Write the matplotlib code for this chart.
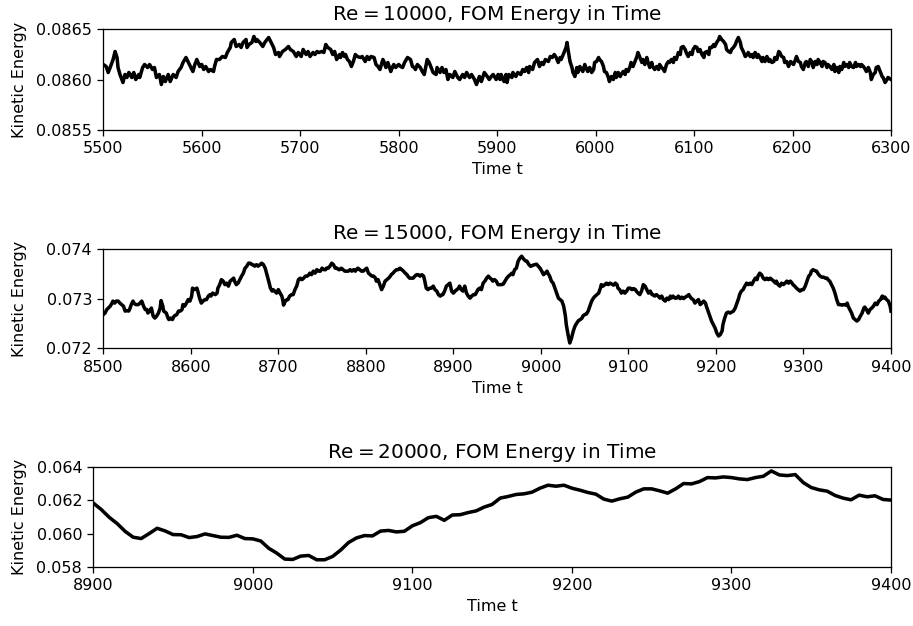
import matplotlib.pyplot as plt
import numpy as np

# ==========================================
# DATA
# ==========================================
# Re = 10000
time_re10k = [
    5500, 5503, 5505, 5507, 5510, 5512, 5514, 5515, 5517, 5520,
    5522, 5524, 5526, 5529, 5531, 5533, 5536, 5537, 5540, 5542,
    5545, 5547, 5550, 5552, 5554, 5557, 5559, 5561, 5563, 5566,
    5568, 5571, 5574, 5576, 5579, 5581, 5584, 5586, 5589, 5591,
    5593, 5595, 5598, 5600, 5602, 5604, 5607, 5609, 5612, 5613,
    5615, 5618, 5621, 5624, 5626, 5629, 5630, 5633, 5635, 5638,
    5640, 5642, 5645, 5646, 5648, 5651, 5653, 5655, 5656, 5659,
    5662, 5664, 5668, 5670, 5673, 5675, 5678, 5679, 5682, 5685,
    5688, 5690, 5693, 5696, 5698, 5701, 5703, 5706, 5708, 5710,
    5713, 5715, 5717, 5719, 5722, 5724, 5726, 5728, 5731, 5733,
    5735, 5737, 5740, 5741, 5743, 5745, 5746, 5748, 5750, 5752,
    5754, 5756, 5758, 5761, 5763, 5766, 5768, 5770, 5772, 5775,
    5777, 5779, 5781, 5784, 5785, 5787, 5789, 5792, 5794, 5795,
    5797, 5800, 5802, 5804, 5806, 5809, 5812, 5814, 5816, 5817,
    5819, 5822, 5824, 5826, 5828, 5829, 5831, 5833, 5835, 5838,
    5839, 5842, 5844, 5846, 5848, 5850, 5852, 5855, 5857, 5860,
    5862, 5865, 5867, 5869, 5872, 5874, 5877, 5879, 5882, 5884,
    5887, 5890, 5892, 5894, 5896, 5899, 5901, 5903, 5904, 5907,
    5909, 5910, 5912, 5915, 5916, 5919, 5921, 5924, 5926, 5928,
    5930, 5932, 5933, 5936, 5938, 5941, 5943, 5945, 5947, 5949,
    5952, 5954, 5956, 5958, 5960, 5962, 5964, 5965, 5968, 5970,
    5971, 5972, 5974, 5976, 5977, 5979, 5981, 5982, 5984, 5987,
    5989, 5991, 5992, 5994, 5996, 5998, 5999, 6001, 6003, 6004,
    6006, 6008, 6009, 6011, 6013, 6014, 6016, 6018, 6020, 6021,
    6023, 6025, 6026, 6028, 6030, 6031, 6033, 6035, 6036, 6038,
    6040, 6042, 6043, 6045, 6047, 6048, 6050, 6052, 6053, 6055,
    6057, 6058, 6060, 6062, 6064, 6065, 6067, 6069, 6070, 6072,
    6074, 6075, 6077, 6079, 6080, 6082, 6084, 6086, 6087, 6089,
    6091, 6092, 6094, 6096, 6098, 6099, 6101, 6103, 6104, 6106,
    6108, 6110, 6111, 6113, 6115, 6116, 6118, 6120, 6121, 6123,
    6125, 6126, 6128, 6130, 6132, 6133, 6135, 6137, 6138, 6140,
    6142, 6143, 6145, 6147, 6148, 6150, 6152, 6154, 6155, 6157,
    6159, 6160, 6162, 6164, 6165, 6167, 6169, 6170, 6172, 6174,
    6176, 6177, 6179, 6181, 6182, 6184, 6186, 6187, 6189, 6191,
    6192, 6194, 6196, 6198, 6199, 6201, 6203, 6204, 6206, 6208,
    6209, 6211, 6213, 6214, 6216, 6218, 6220, 6221, 6223, 6225,
    6226, 6228, 6230, 6231, 6233, 6235, 6236, 6238, 6240, 6242,
    6243, 6245, 6247, 6248, 6250, 6252, 6253, 6255, 6257, 6258,
    6260, 6262, 6264, 6265, 6267, 6269, 6270, 6272, 6274, 6275,
    6277, 6279, 6280, 6282, 6284, 6285, 6287, 6289, 6291, 6292,
    6294, 6296, 6297, 6300,
]
energy_re10k = [
    0.08615, 0.08613, 0.08607, 0.08612, 0.08620, 0.08628, 0.08622, 0.08612, 0.08605, 0.08597,
    0.08605, 0.08602, 0.08607, 0.08602, 0.08607, 0.08600, 0.08605, 0.08602, 0.08612, 0.08615,
    0.08612, 0.08615, 0.08610, 0.08612, 0.08602, 0.08605, 0.08595, 0.08603, 0.08598, 0.08605,
    0.08598, 0.08605, 0.08602, 0.08608, 0.08612, 0.08617, 0.08622, 0.08618, 0.08612, 0.08608,
    0.08615, 0.08620, 0.08613, 0.08615, 0.08610, 0.08613, 0.08608, 0.08610, 0.08608, 0.08613,
    0.08620, 0.08620, 0.08623, 0.08622, 0.08627, 0.08632, 0.08637, 0.08640, 0.08633, 0.08635,
    0.08632, 0.08637, 0.08640, 0.08632, 0.08635, 0.08637, 0.08643, 0.08638, 0.08640, 0.08637,
    0.08633, 0.08637, 0.08642, 0.08638, 0.08632, 0.08625, 0.08627, 0.08623, 0.08628, 0.08630,
    0.08633, 0.08630, 0.08628, 0.08623, 0.08627, 0.08623, 0.08630, 0.08625, 0.08628, 0.08623,
    0.08627, 0.08625, 0.08628, 0.08627, 0.08628, 0.08627, 0.08635, 0.08632, 0.08630, 0.08625,
    0.08628, 0.08620, 0.08625, 0.08622, 0.08627, 0.08623, 0.08625, 0.08620, 0.08618, 0.08613,
    0.08618, 0.08625, 0.08623, 0.08622, 0.08623, 0.08618, 0.08623, 0.08620, 0.08623, 0.08622,
    0.08615, 0.08613, 0.08610, 0.08620, 0.08618, 0.08612, 0.08617, 0.08608, 0.08613, 0.08615,
    0.08612, 0.08615, 0.08613, 0.08612, 0.08617, 0.08622, 0.08620, 0.08613, 0.08612, 0.08610,
    0.08615, 0.08612, 0.08608, 0.08605, 0.08615, 0.08620, 0.08617, 0.08612, 0.08607, 0.08605,
    0.08612, 0.08607, 0.08612, 0.08607, 0.08610, 0.08600, 0.08605, 0.08602, 0.08608, 0.08602,
    0.08600, 0.08605, 0.08602, 0.08607, 0.08602, 0.08605, 0.08600, 0.08595, 0.08603, 0.08598,
    0.08607, 0.08603, 0.08600, 0.08603, 0.08605, 0.08600, 0.08605, 0.08600, 0.08605, 0.08598,
    0.08605, 0.08597, 0.08605, 0.08602, 0.08607, 0.08603, 0.08607, 0.08605, 0.08610, 0.08608,
    0.08612, 0.08607, 0.08613, 0.08610, 0.08617, 0.08620, 0.08613, 0.08617, 0.08615, 0.08620,
    0.08618, 0.08623, 0.08622, 0.08625, 0.08622, 0.08617, 0.08622, 0.08620, 0.08627, 0.08632,
    0.08637, 0.08630, 0.08618, 0.08612, 0.08607, 0.08603, 0.08612, 0.08607, 0.08613, 0.08608,
    0.08615, 0.08610, 0.08608, 0.08612, 0.08607, 0.08610, 0.08617, 0.08618, 0.08622, 0.08620,
    0.08618, 0.08613, 0.08608, 0.08607, 0.08602, 0.08598, 0.08603, 0.08600, 0.08607, 0.08602,
    0.08607, 0.08603, 0.08605, 0.08608, 0.08605, 0.08610, 0.08608, 0.08613, 0.08617, 0.08613,
    0.08618, 0.08623, 0.08627, 0.08622, 0.08617, 0.08620, 0.08615, 0.08622, 0.08618, 0.08612,
    0.08617, 0.08613, 0.08610, 0.08613, 0.08610, 0.08615, 0.08612, 0.08610, 0.08608, 0.08615,
    0.08618, 0.08617, 0.08620, 0.08617, 0.08622, 0.08620, 0.08627, 0.08625, 0.08632, 0.08633,
    0.08630, 0.08627, 0.08623, 0.08627, 0.08625, 0.08630, 0.08633, 0.08632, 0.08628, 0.08630,
    0.08625, 0.08622, 0.08627, 0.08628, 0.08625, 0.08632, 0.08632, 0.08635, 0.08633, 0.08637,
    0.08640, 0.08643, 0.08640, 0.08638, 0.08635, 0.08630, 0.08628, 0.08627, 0.08630, 0.08632,
    0.08635, 0.08638, 0.08642, 0.08637, 0.08632, 0.08628, 0.08623, 0.08625, 0.08627, 0.08623,
    0.08625, 0.08622, 0.08627, 0.08622, 0.08625, 0.08622, 0.08618, 0.08622, 0.08618, 0.08623,
    0.08618, 0.08620, 0.08617, 0.08618, 0.08622, 0.08620, 0.08628, 0.08627, 0.08623, 0.08622,
    0.08617, 0.08618, 0.08613, 0.08618, 0.08617, 0.08615, 0.08620, 0.08623, 0.08618, 0.08617,
    0.08613, 0.08610, 0.08617, 0.08618, 0.08613, 0.08620, 0.08617, 0.08612, 0.08618, 0.08615,
    0.08620, 0.08617, 0.08613, 0.08618, 0.08617, 0.08612, 0.08615, 0.08613, 0.08610, 0.08615,
    0.08608, 0.08612, 0.08607, 0.08613, 0.08610, 0.08617, 0.08613, 0.08615, 0.08612, 0.08617,
    0.08613, 0.08612, 0.08617, 0.08613, 0.08615, 0.08613, 0.08615, 0.08613, 0.08610, 0.08608,
    0.08612, 0.08607, 0.08600, 0.08605, 0.08607, 0.08612, 0.08613, 0.08608, 0.08603, 0.08602,
    0.08597, 0.08600, 0.08602, 0.08600,
]

# Re = 15000
time_re15k = [
    8500, 8502, 8504, 8508, 8510, 8511, 8513, 8515, 8517, 8519,
    8521, 8523, 8525, 8527, 8529, 8530, 8532, 8534, 8535, 8537,
    8540, 8542, 8544, 8546, 8548, 8550, 8551, 8553, 8555, 8557,
    8559, 8561, 8563, 8565, 8566, 8568, 8569, 8572, 8574, 8575,
    8577, 8579, 8581, 8584, 8586, 8588, 8590, 8591, 8593, 8595,
    8597, 8599, 8601, 8602, 8604, 8607, 8608, 8610, 8612, 8614,
    8616, 8618, 8620, 8622, 8623, 8625, 8628, 8630, 8631, 8633,
    8635, 8637, 8639, 8641, 8643, 8645, 8647, 8649, 8650, 8652,
    8654, 8656, 8658, 8660, 8662, 8664, 8666, 8668, 8670, 8671,
    8673, 8675, 8677, 8679, 8681, 8683, 8685, 8687, 8689, 8691,
    8693, 8694, 8696, 8698, 8700, 8702, 8704, 8705, 8706, 8708,
    8710, 8711, 8713, 8715, 8717, 8719, 8721, 8723, 8725, 8727,
    8729, 8731, 8733, 8735, 8736, 8738, 8740, 8742, 8744, 8746,
    8748, 8750, 8752, 8754, 8755, 8757, 8759, 8761, 8763, 8765,
    8767, 8769, 8770, 8772, 8774, 8776, 8778, 8780, 8782, 8784,
    8786, 8788, 8789, 8791, 8793, 8795, 8797, 8799, 8801, 8803,
    8805, 8807, 8809, 8811, 8812, 8814, 8816, 8818, 8820, 8822,
    8824, 8826, 8828, 8829, 8831, 8833, 8835, 8837, 8839, 8841,
    8843, 8845, 8847, 8848, 8850, 8852, 8854, 8856, 8858, 8860,
    8862, 8864, 8866, 8867, 8869, 8871, 8873, 8875, 8877, 8879,
    8881, 8883, 8885, 8887, 8888, 8890, 8892, 8894, 8896, 8898,
    8900, 8902, 8904, 8906, 8907, 8909, 8911, 8913, 8915, 8917,
    8919, 8921, 8923, 8925, 8926, 8928, 8930, 8932, 8934, 8936,
    8938, 8940, 8942, 8944, 8945, 8947, 8949, 8951, 8953, 8955,
    8957, 8959, 8961, 8963, 8965, 8967, 8968, 8970, 8972, 8974,
    8976, 8978, 8980, 8982, 8984, 8986, 8988, 8989, 8991, 8993,
    8995, 8997, 8999, 9001, 9003, 9005, 9007, 9008, 9010, 9012,
    9014, 9016, 9018, 9020, 9022, 9024, 9026, 9028, 9029, 9031,
    9033, 9035, 9037, 9039, 9041, 9043, 9045, 9047, 9048, 9050,
    9052, 9054, 9056, 9058, 9060, 9062, 9064, 9066, 9068, 9069,
    9071, 9073, 9075, 9077, 9079, 9081, 9083, 9085, 9087, 9088,
    9090, 9092, 9094, 9096, 9098, 9100, 9102, 9104, 9106, 9108,
    9109, 9111, 9113, 9115, 9117, 9119, 9121, 9123, 9125, 9127,
    9128, 9130, 9132, 9134, 9136, 9138, 9140, 9142, 9144, 9146,
    9148, 9149, 9151, 9153, 9155, 9157, 9159, 9161, 9163, 9165,
    9167, 9169, 9170, 9172, 9174, 9176, 9178, 9180, 9182, 9184,
    9186, 9188, 9189, 9191, 9193, 9195, 9197, 9199, 9201, 9203,
    9205, 9207, 9208, 9210, 9212, 9214, 9216, 9218, 9220, 9222,
    9224, 9226, 9227, 9229, 9231, 9233, 9235, 9237, 9239, 9241,
    9243, 9245, 9247, 9248, 9250, 9252, 9254, 9256, 9258, 9260,
    9262, 9264, 9266, 9268, 9269, 9271, 9273, 9275, 9277, 9279,
    9281, 9283, 9285, 9287, 9288, 9290, 9292, 9294, 9296, 9298,
    9300, 9302, 9304, 9306, 9308, 9309, 9311, 9313, 9315, 9317,
    9319, 9321, 9323, 9325, 9327, 9328, 9330, 9332, 9334, 9336,
    9338, 9340, 9342, 9344, 9346, 9348, 9350, 9351, 9353, 9355,
    9357, 9359, 9361, 9363, 9365, 9367, 9369, 9370, 9372, 9374,
    9376, 9378, 9380, 9382, 9384, 9386, 9388, 9390, 9391, 9393,
    9395, 9397, 9399, 9400,
]
energy_re15k = [
    0.07268, 0.07271, 0.07278, 0.07285, 0.07291, 0.07295, 0.07291, 0.07295, 0.07295, 0.07291,
    0.07288, 0.07285, 0.07275, 0.07276, 0.07275, 0.07278, 0.07288, 0.07295, 0.07291, 0.07288,
    0.07288, 0.07291, 0.07295, 0.07285, 0.07278, 0.07278, 0.07271, 0.07275, 0.07281, 0.07265,
    0.07261, 0.07265, 0.07271, 0.07281, 0.07296, 0.07285, 0.07275, 0.07271, 0.07261, 0.07258,
    0.07261, 0.07258, 0.07265, 0.07268, 0.07275, 0.07275, 0.07278, 0.07288, 0.07285, 0.07291,
    0.07298, 0.07295, 0.07305, 0.07321, 0.07318, 0.07321, 0.07315, 0.07301, 0.07291, 0.07295,
    0.07298, 0.07298, 0.07305, 0.07308, 0.07305, 0.07311, 0.07308, 0.07311, 0.07321, 0.07328,
    0.07338, 0.07335, 0.07328, 0.07331, 0.07325, 0.07335, 0.07338, 0.07341, 0.07335, 0.07328,
    0.07331, 0.07338, 0.07345, 0.07351, 0.07361, 0.07365, 0.07371, 0.07371, 0.07368, 0.07368,
    0.07365, 0.07368, 0.07365, 0.07368, 0.07371, 0.07368, 0.07361, 0.07348, 0.07335, 0.07321,
    0.07315, 0.07318, 0.07315, 0.07311, 0.07318, 0.07311, 0.07305, 0.07298, 0.07287, 0.07295,
    0.07298, 0.07298, 0.07305, 0.07308, 0.07308, 0.07318, 0.07325, 0.07338, 0.07341, 0.07338,
    0.07341, 0.07345, 0.07345, 0.07348, 0.07351, 0.07348, 0.07355, 0.07351, 0.07358, 0.07355,
    0.07355, 0.07361, 0.07358, 0.07358, 0.07361, 0.07361, 0.07365, 0.07371, 0.07368, 0.07361,
    0.07361, 0.07358, 0.07358, 0.07361, 0.07358, 0.07355, 0.07355, 0.07355, 0.07358, 0.07355,
    0.07358, 0.07355, 0.07358, 0.07361, 0.07358, 0.07355, 0.07355, 0.07358, 0.07361, 0.07351,
    0.07348, 0.07345, 0.07345, 0.07341, 0.07335, 0.07338, 0.07328, 0.07318, 0.07325, 0.07335,
    0.07338, 0.07341, 0.07345, 0.07348, 0.07351, 0.07355, 0.07358, 0.07358, 0.07361, 0.07358,
    0.07355, 0.07351, 0.07348, 0.07345, 0.07341, 0.07341, 0.07341, 0.07345, 0.07348, 0.07348,
    0.07345, 0.07348, 0.07345, 0.07338, 0.07321, 0.07318, 0.07321, 0.07321, 0.07325, 0.07318,
    0.07315, 0.07308, 0.07305, 0.07308, 0.07308, 0.07315, 0.07325, 0.07328, 0.07331, 0.07315,
    0.07311, 0.07315, 0.07318, 0.07321, 0.07325, 0.07318, 0.07315, 0.07325, 0.07311, 0.07305,
    0.07301, 0.07305, 0.07308, 0.07308, 0.07311, 0.07318, 0.07321, 0.07318, 0.07331, 0.07335,
    0.07341, 0.07345, 0.07341, 0.07338, 0.07335, 0.07338, 0.07335, 0.07328, 0.07328, 0.07328,
    0.07329, 0.07335, 0.07341, 0.07345, 0.07348, 0.07351, 0.07348, 0.07358, 0.07361, 0.07375,
    0.07381, 0.07385, 0.07380, 0.07376, 0.07375, 0.07369, 0.07365, 0.07365, 0.07367, 0.07368,
    0.07369, 0.07365, 0.07361, 0.07355, 0.07348, 0.07351, 0.07355, 0.07351, 0.07345, 0.07335,
    0.07331, 0.07321, 0.07311, 0.07301, 0.07298, 0.07295, 0.07285, 0.07265, 0.07248, 0.07228,
    0.07211, 0.07221, 0.07235, 0.07245, 0.07251, 0.07256, 0.07258, 0.07261, 0.07265, 0.07268,
    0.07269, 0.07275, 0.07285, 0.07295, 0.07301, 0.07305, 0.07308, 0.07311, 0.07321, 0.07328,
    0.07325, 0.07328, 0.07331, 0.07328, 0.07331, 0.07329, 0.07327, 0.07331, 0.07328, 0.07321,
    0.07318, 0.07311, 0.07315, 0.07311, 0.07315, 0.07321, 0.07321, 0.07318, 0.07320, 0.07318,
    0.07315, 0.07311, 0.07308, 0.07315, 0.07328, 0.07325, 0.07318, 0.07311, 0.07315, 0.07308,
    0.07308, 0.07305, 0.07308, 0.07305, 0.07301, 0.07305, 0.07298, 0.07295, 0.07301, 0.07298,
    0.07305, 0.07301, 0.07305, 0.07301, 0.07301, 0.07305, 0.07300, 0.07303, 0.07300, 0.07303,
    0.07305, 0.07308, 0.07305, 0.07300, 0.07298, 0.07291, 0.07295, 0.07298, 0.07288, 0.07291,
    0.07295, 0.07291, 0.07285, 0.07275, 0.07265, 0.07255, 0.07248, 0.07241, 0.07231, 0.07225,
    0.07228, 0.07235, 0.07248, 0.07261, 0.07271, 0.07273, 0.07271, 0.07273, 0.07275, 0.07281,
    0.07291, 0.07301, 0.07308, 0.07315, 0.07318, 0.07325, 0.07331, 0.07328, 0.07331, 0.07328,
    0.07335, 0.07341, 0.07338, 0.07345, 0.07351, 0.07348, 0.07341, 0.07338, 0.07341, 0.07338,
    0.07341, 0.07338, 0.07335, 0.07331, 0.07335, 0.07328, 0.07325, 0.07331, 0.07328, 0.07331,
    0.07335, 0.07331, 0.07335, 0.07331, 0.07328, 0.07325, 0.07321, 0.07318, 0.07315, 0.07318,
    0.07318, 0.07325, 0.07335, 0.07345, 0.07349, 0.07355, 0.07358, 0.07356, 0.07355, 0.07349,
    0.07345, 0.07343, 0.07343, 0.07341, 0.07341, 0.07338, 0.07335, 0.07328, 0.07321, 0.07311,
    0.07298, 0.07288, 0.07288, 0.07287, 0.07288, 0.07287, 0.07291, 0.07285, 0.07278, 0.07271,
    0.07261, 0.07258, 0.07255, 0.07258, 0.07265, 0.07271, 0.07281, 0.07283, 0.07278, 0.07271,
    0.07278, 0.07281, 0.07285, 0.07291, 0.07288, 0.07295, 0.07298, 0.07305, 0.07301, 0.07303,
    0.07298, 0.07295, 0.07285, 0.07275,
]

# Re = 20000 (sampled every 5 time units)
time_re20k = np.arange(8900, 9401, 5)
energy_re20k = [
    0.06184, 0.06145, 0.06098, 0.06060, 0.06013, 0.05978, 0.05970, 0.06000, 0.06032, 0.06016,
    0.05994, 0.05993, 0.05976, 0.05982, 0.05998, 0.05988, 0.05978, 0.05977, 0.05990, 0.05970,
    0.05968, 0.05955, 0.05911, 0.05882, 0.05846, 0.05844, 0.05864, 0.05868, 0.05842, 0.05842,
    0.05862, 0.05900, 0.05946, 0.05974, 0.05988, 0.05986, 0.06015, 0.06019, 0.06010, 0.06014,
    0.06047, 0.06066, 0.06096, 0.06104, 0.06080, 0.06112, 0.06114, 0.06127, 0.06137, 0.06160,
    0.06176, 0.06214, 0.06224, 0.06236, 0.06240, 0.06250, 0.06274, 0.06292, 0.06286, 0.06292,
    0.06274, 0.06262, 0.06248, 0.06238, 0.06208, 0.06196, 0.06210, 0.06220, 0.06250, 0.06270,
    0.06270, 0.06258, 0.06244, 0.06270, 0.06302, 0.06300, 0.06314, 0.06338, 0.06336, 0.06342,
    0.06338, 0.06330, 0.06326, 0.06338, 0.06346, 0.06378, 0.06354, 0.06350, 0.06356, 0.06308,
    0.06278, 0.06264, 0.06256, 0.06230, 0.06214, 0.06204, 0.06232, 0.06222, 0.06228, 0.06206,
    0.06202,
]

reynolds = ['10000', '15000', '20000']
xticks_re10k = [5500, 5600, 5700, 5800, 5900, 6000, 6100, 6200, 6300]
xticks_re15k = [8500, 8600, 8700, 8800, 8900, 9000, 9100, 9200, 9300, 9400]
xticks_re20k = [8900, 9000, 9100, 9200, 9300, 9400]
yticks_re10k = [0.0855, 0.0860, 0.0865]
yticks_re15k = [0.072, 0.073, 0.074]
yticks_re20k = [0.058, 0.060, 0.062, 0.064]
ylabels_re10k = ['0.0855', '0.0860', '0.0865']
ylabels_re15k = ['0.072', '0.073', '0.074']
ylabels_re20k = ['0.058', '0.060', '0.062', '0.064']

# ==========================================
# PLOT
# ==========================================
DPI = 115
fig = plt.figure(figsize=(913 / DPI, 626 / DPI), dpi=DPI)

# [left, bottom, width, height] in figure fraction
boxes = [
    [0.1131, 0.7931, 0.8628, 0.1598],
    [0.1131, 0.4433, 0.8628, 0.1594],
    [0.1022, 0.0947, 0.8737, 0.1588],
]
series = [
    (time_re10k, energy_re10k, xticks_re10k, yticks_re10k, ylabels_re10k),
    (time_re15k, energy_re15k, xticks_re15k, yticks_re15k, ylabels_re15k),
    (time_re20k, energy_re20k, xticks_re20k, yticks_re20k, ylabels_re20k),
]
label_x_px = 27  # right side of the y-label, in pixels

for box, re, (t, e, xt, yt, yl) in zip(boxes, reynolds, series):
    ax = fig.add_axes(box)
    ax.plot(t, e, color='black', linewidth=2.2)
    ax.set_xlim(xt[0], xt[-1])
    ax.set_ylim(yt[0], yt[-1])
    ax.set_xticks(xt)
    ax.set_yticks(yt)
    ax.set_yticklabels(yl)
    ax.set_xlabel('Time t', fontsize=10)
    ax.set_ylabel('Kinetic Energy', fontsize=10)
    ax.tick_params(labelsize=10)
    ax.set_title(r'$\mathrm{Re} = %s$, FOM Energy in Time' % re, fontsize=12.5)
    # keep all y-labels on one vertical line like the reference
    left_px = box[0] * 913
    width_px = box[2] * 913
    ax.yaxis.set_label_coords((label_x_px - left_px) / width_px, 0.5)

fig.savefig('out.png', dpi=DPI, facecolor='white')
